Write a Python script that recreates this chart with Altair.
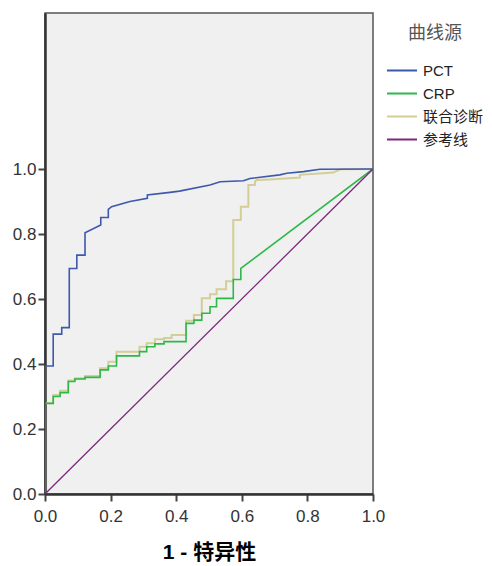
import altair as alt
import pandas as pd

series_names = ["PCT", "CRP", "联合诊断", "参考线"]
series_colors = ["#3E58AC", "#2EB848", "#D3CE97", "#7C287D"]

x_ticks = [0.0, 0.2, 0.4, 0.6, 0.8, 1.0]
y_ticks = [0.0, 0.2, 0.4, 0.6, 0.8, 1.0]

pct_x = [0, 0, 0.025, 0.025, 0.051, 0.051, 0.074, 0.074, 0.097, 0.097, 0.122, 0.122,
         0.17, 0.17, 0.193, 0.193, 0.203, 0.259, 0.312, 0.312, 0.381, 0.41, 0.503,
         0.534, 0.605, 0.625, 0.716, 0.737, 0.788, 0.838, 1.0]
pct_y = [0, 0.394, 0.394, 0.492, 0.492, 0.512, 0.512, 0.694, 0.694, 0.735, 0.735, 0.804,
         0.828, 0.851, 0.851, 0.876, 0.884, 0.9, 0.91, 0.92, 0.928, 0.932, 0.951,
         0.961, 0.964, 0.971, 0.982, 0.987, 0.992, 0.999, 1.0]

crp_x = [0, 0, 0.025, 0.025, 0.046, 0.046, 0.071, 0.071, 0.091, 0.091, 0.122, 0.122,
         0.168, 0.168, 0.193, 0.193, 0.218, 0.218, 0.288, 0.288, 0.31, 0.31, 0.335,
         0.335, 0.363, 0.363, 0.43, 0.43, 0.454, 0.454, 0.478, 0.478, 0.503, 0.503,
         0.523, 0.523, 0.574, 0.574, 0.597, 0.597, 1.0]
crp_y = [0, 0.279, 0.279, 0.3, 0.3, 0.312, 0.312, 0.346, 0.346, 0.354, 0.354, 0.359,
         0.359, 0.382, 0.382, 0.394, 0.394, 0.425, 0.425, 0.438, 0.438, 0.453, 0.453,
         0.462, 0.462, 0.469, 0.469, 0.525, 0.525, 0.535, 0.535, 0.556, 0.556, 0.576,
         0.576, 0.602, 0.602, 0.66, 0.66, 0.694, 1.0]

comb_x = [0, 0, 0.025, 0.025, 0.046, 0.046, 0.071, 0.071, 0.091, 0.091, 0.122, 0.122,
          0.168, 0.168, 0.193, 0.193, 0.218, 0.218, 0.288, 0.288, 0.31, 0.31, 0.335,
          0.335, 0.363, 0.363, 0.386, 0.386, 0.43, 0.43, 0.454, 0.454, 0.478, 0.478,
          0.503, 0.503, 0.523, 0.523, 0.552, 0.552, 0.574, 0.574, 0.597, 0.597, 0.62,
          0.62, 0.64, 0.64, 0.645, 0.686, 0.777, 0.777, 0.879, 0.9, 1.0]
comb_y = [0, 0.279, 0.279, 0.305, 0.305, 0.318, 0.318, 0.349, 0.349, 0.356, 0.356, 0.363,
          0.363, 0.387, 0.387, 0.407, 0.407, 0.438, 0.438, 0.453, 0.453, 0.464, 0.464,
          0.476, 0.476, 0.48, 0.48, 0.489, 0.489, 0.533, 0.533, 0.551, 0.551, 0.602,
          0.602, 0.615, 0.615, 0.63, 0.63, 0.655, 0.655, 0.843, 0.843, 0.884, 0.884,
          0.951, 0.951, 0.961, 0.966, 0.968, 0.974, 0.982, 0.989, 0.999, 1.0]

ref_x = [0.0, 1.0]
ref_y = [0.0, 1.0]


def frame(name, xs, ys):
    return pd.DataFrame({"fpr": xs, "tpr": ys, "series": name, "order": list(range(len(xs)))})


df = pd.concat([
    frame("PCT", pct_x, pct_y),
    frame("CRP", crp_x, crp_y),
    frame("联合诊断", comb_x, comb_y),
    frame("参考线", ref_x, ref_y),
], ignore_index=True)

latin = "Liberation Sans, Arial, Noto Sans CJK SC"

color = alt.Color(
    "series:N",
    scale=alt.Scale(domain=series_names, range=series_colors),
    legend=alt.Legend(
        orient="none", legendX=341, legendY=12, padding=0,
        title="曲线源", titleFontSize=18, titleFontWeight="normal", titleColor="#555",
        titleFont="Noto Sans CJK SC", titleAnchor="middle", titlePadding=20,
        labelFontSize=15, labelFont=latin, labelColor="#222", labelOffset=5,
        symbolType="stroke", symbolSize=900, symbolStrokeWidth=2,
        clipHeight=15, rowPadding=7,
    ),
)

x_enc = alt.X(
    "fpr:Q",
    scale=alt.Scale(domain=[0, 1], nice=False),
    axis=alt.Axis(
        values=x_ticks, format=".1f", title="1 - 特异性", titleFontSize=21,
        titleFontWeight="bold", titleColor="#000", titleFont=latin, titlePadding=17,
        labelFontSize=17, labelFont=latin, labelColor="#333", labelPadding=7,
        labelFlush=False, labelOverlap=False, tickSize=7, tickWidth=2, tickColor="#444",
        domainColor="#333", domainWidth=2.5, grid=False,
    ),
)
y_enc = alt.Y(
    "tpr:Q",
    scale=alt.Scale(domain=[0, 1.48], nice=False),
    axis=alt.Axis(
        values=y_ticks, format=".1f", title=None,
        labelFontSize=17, labelFont=latin, labelColor="#333", labelPadding=2,
        labelFlush=False, labelOverlap=False, tickSize=7, tickWidth=2, tickColor="#444",
        domainColor="#333", domainWidth=2.5, grid=False,
    ),
)

base = alt.Chart(df)


def layer(name, width):
    return base.transform_filter(alt.datum.series == name).mark_line(
        strokeWidth=width, clip=True
    ).encode(x=x_enc, y=y_enc, color=color, order="order:Q")


chart = alt.layer(
    layer("联合诊断", 2.0),
    layer("CRP", 1.6),
    layer("PCT", 1.6),
    layer("参考线", 1.3),
).properties(
    width=328, height=481,
    autosize=alt.AutoSizeParams(type="none"),
    padding={"left": 37, "top": 5, "right": 111, "bottom": 71},
    background="white",
).configure_view(
    fill="#F0F0F0", stroke="#555", strokeWidth=1.5
)

chart.save("out.html", embed_options={"renderer": "svg", "actions": False})
